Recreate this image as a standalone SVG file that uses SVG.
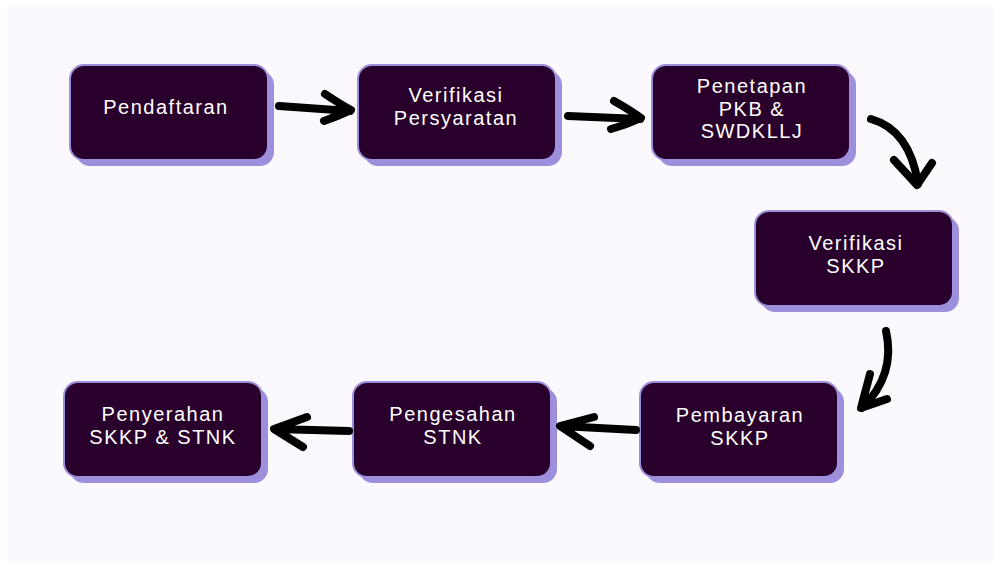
<svg xmlns="http://www.w3.org/2000/svg" width="993" height="564" viewBox="0 0 993 564">
<style>
.sh{fill:#9c8fdc}
.bx{fill:#28002b;stroke:#9c8fdc;stroke-width:2}
.t{font-family:"Liberation Sans",Arial,sans-serif;font-size:20px;letter-spacing:1.5px;fill:#ffffff;text-anchor:middle}
.ar{fill:none;stroke:#000;stroke-width:8;stroke-linecap:round;stroke-linejoin:round}
</style>
<rect x="0" y="0" width="993" height="564" fill="#ffffff"/>
<rect x="7" y="7" width="986" height="557" fill="#fbf9fd"/>
<g id="n1"><rect class="sh" x="76" y="71" width="198" height="95" rx="14"/><rect class="bx" x="70" y="65" width="198" height="95" rx="14"/><text class="t" x="166" y="114">Pendaftaran</text></g>
<g id="n2"><rect class="sh" x="364" y="71" width="198" height="95" rx="14"/><rect class="bx" x="358" y="65" width="198" height="95" rx="14"/><text class="t" x="456" y="102">Verifikasi</text><text class="t" x="456" y="125">Persyaratan</text></g>
<g id="n3"><rect class="sh" x="658" y="71" width="198" height="95" rx="14"/><rect class="bx" x="652" y="65" width="198" height="95" rx="14"/><text class="t" x="752" y="93">Penetapan</text><text class="t" x="752" y="115.5">PKB &amp;</text><text class="t" x="752" y="138">SWDKLLJ</text></g>
<g id="n4"><rect class="sh" x="761" y="217" width="198" height="95" rx="14"/><rect class="bx" x="755" y="211" width="198" height="95" rx="14"/><text class="t" x="856" y="250">Verifikasi</text><text class="t" x="856" y="273">SKKP</text></g>
<g id="n5"><rect class="sh" x="646" y="388" width="198" height="95" rx="14"/><rect class="bx" x="640" y="382" width="198" height="95" rx="14"/><text class="t" x="740" y="422">Pembayaran</text><text class="t" x="740" y="445">SKKP</text></g>
<g id="n6"><rect class="sh" x="359" y="388" width="198" height="95" rx="14"/><rect class="bx" x="353" y="382" width="198" height="95" rx="14"/><text class="t" x="453" y="421">Pengesahan</text><text class="t" x="453" y="444">STNK</text></g>
<g id="n7"><rect class="sh" x="70" y="388" width="198" height="95" rx="14"/><rect class="bx" x="64" y="382" width="198" height="95" rx="14"/><text class="t" x="163" y="421">Penyerahan</text><text class="t" x="163" y="444">SKKP &amp; STNK</text></g>
<g id="connectors">
<path class="ar" d="M279 106 L350 111 M325 94 Q340 104 351 110 Q338 116 324 121"/>
<path class="ar" d="M568 116 L640 119 M614 101 Q630 110 641 118 Q626 125 611 129"/>
<path class="ar" d="M871 119 Q910 130 918 184 M894 160 L917 185 L932 163"/>
<path class="ar" d="M886 331 Q896 375 862 408 M870 374 L861 408 L887 399"/>
<path class="ar" d="M636 430 L561 426 M594 417 L560 426 L590 446"/>
<path class="ar" d="M349 431 L275 429 M307 417 L274 429 L303 447"/>
</g>
</svg>
